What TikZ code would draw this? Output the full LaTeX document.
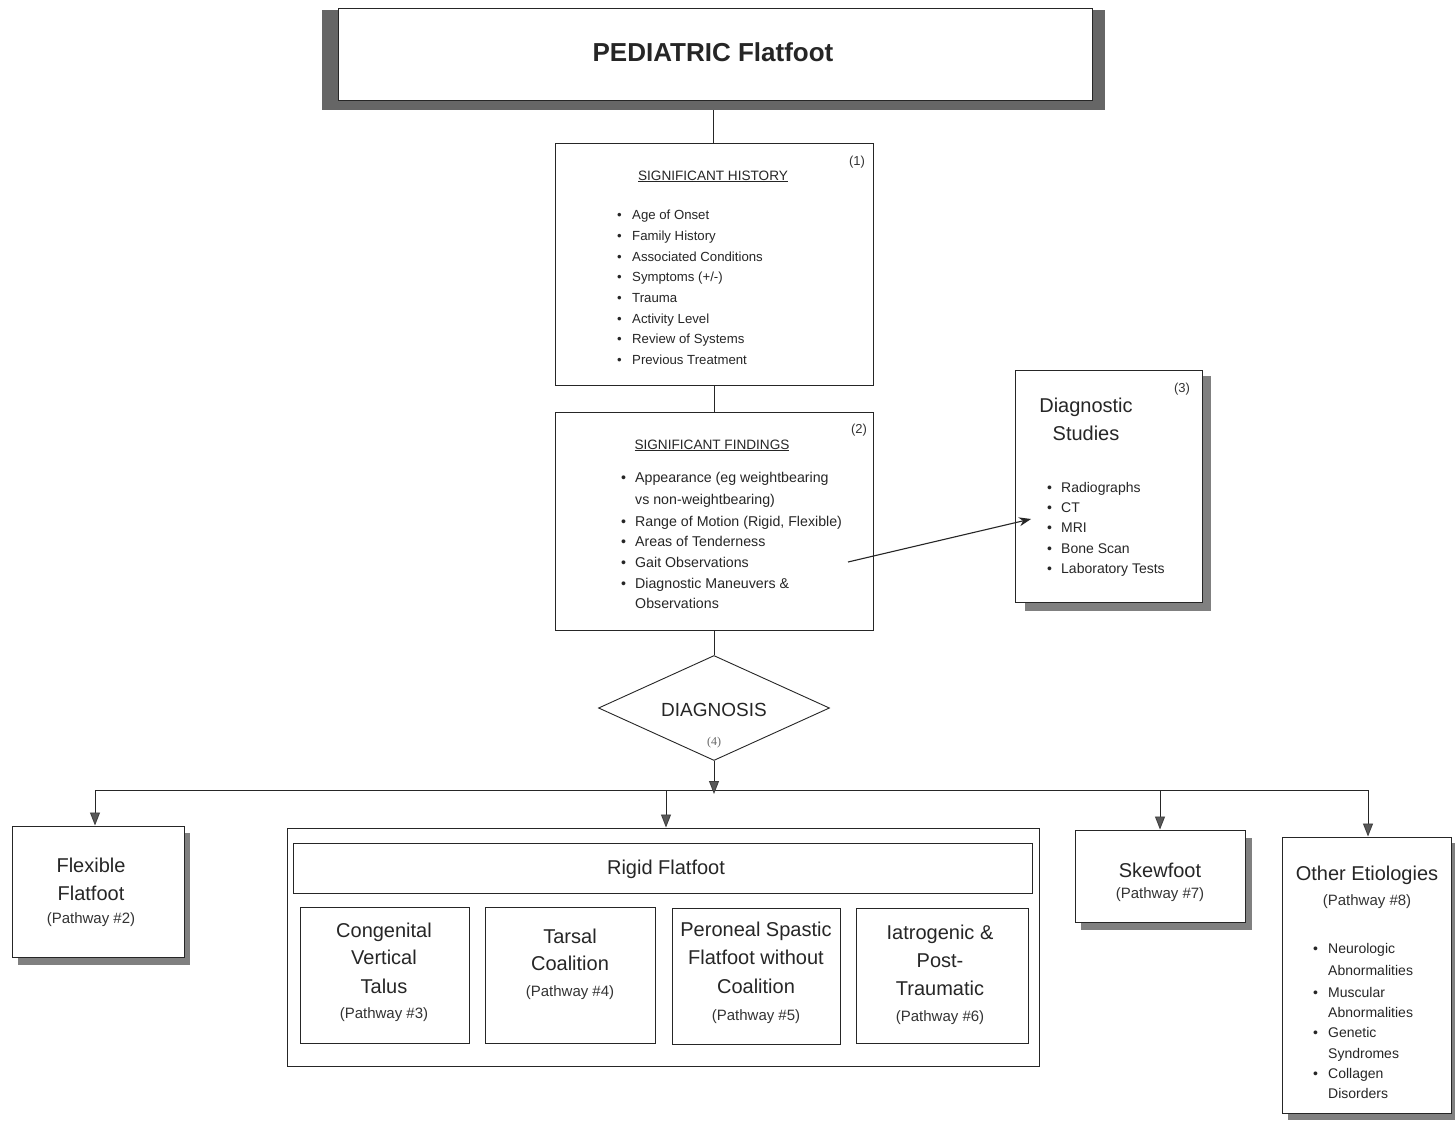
\documentclass[tikz,border=0pt]{standalone}
\usepackage{fontspec}
\setmainfont{Liberation Sans}
\newfontfamily\serifx{Liberation Serif}
\usetikzlibrary{shapes.geometric,arrows.meta}
\newcommand\mybul{\makebox[15pt][l]{\textbullet}}
\newcommand\myind{\hspace*{15pt}}
\begin{document}
\begin{tikzpicture}[x=1pt,y=-1pt,
  boxst/.style={draw=black!85, line width=1pt, fill=white, inner sep=0pt},
  shad/.style={fill=black!50, draw=none, inner sep=0pt},
  frame/.style={fill=black!60, draw=none, inner sep=0pt},
  ln/.style={draw=black!85, line width=0.9pt},
  arr/.style={ln, -{Triangle[length=13pt,width=10pt,fill=black!65,color=black!75]}},
  arrb/.style={ln, line width=1.1pt, -{Stealth[length=12pt,width=9pt]}},
  big/.style={font=\fontsize{20}{24}\selectfont, text=black!85, inner sep=0pt, anchor=base},
  pw/.style={font=\fontsize{15}{18}\selectfont, text=black!80, inner sep=0pt, anchor=base},
  num/.style={font=\fontsize{13}{16}\selectfont, text=black!80, inner sep=0pt, anchor=base},
  hd/.style={font=\fontsize{13.6}{16}\selectfont, text=black!85, inner sep=0pt, anchor=base},
  itmA/.style={font=\fontsize{13.2}{16}\selectfont, text=black!85, inner sep=0pt, anchor=base west},
  itmB/.style={font=\fontsize{14.2}{17}\selectfont, text=black!85, inner sep=0pt, anchor=base west},
  itmC/.style={font=\fontsize{14}{17}\selectfont, text=black!85, inner sep=0pt, anchor=base west}
]
\useasboundingbox (0,0) rectangle (1455,1121);
\fill[white] (0,0) rectangle (1455,1121);

% ---- title
\node[frame, minimum width=783, minimum height=100] (titleframe) at (713.5,60) {};
\node[boxst, line width=0.8pt, minimum width=754, minimum height=92] (title) at (715,54) {};
\node[inner sep=0pt, anchor=base, font=\fontsize{26}{30}\selectfont\bfseries, text=black!85] (titletxt) at (713,62) {PEDIATRIC Flatfoot};

% ---- history
\node[boxst, minimum width=318, minimum height=242] (hist) at (714,264) {};
\node[num] (n1) at (857,165) {(1)};
\node[hd] (histhd) at (713,180) {\underline{SIGNIFICANT HISTORY}};
\node[itmA] (h1) at (617,219.5) {\mybul Age of Onset};
\node[itmA] (h2) at (617,240.5) {\mybul Family History};
\node[itmA] (h3) at (617,261.5) {\mybul Associated Conditions};
\node[itmA] (h4) at (617,281.5) {\mybul Symptoms (+/-)};
\node[itmA] (h5) at (617,302.5) {\mybul Trauma};
\node[itmA] (h6) at (617,323.5) {\mybul Activity Level};
\node[itmA] (h7) at (617,343.5) {\mybul Review of Systems};
\node[itmA] (h8) at (617,364.5) {\mybul Previous Treatment};

% ---- findings
\node[boxst, minimum width=318, minimum height=218] (find) at (714,521) {};
\node[num] (n2) at (859,433) {(2)};
\node[hd] (findhd) at (712,449) {\underline{SIGNIFICANT FINDINGS}};
\node[itmB] (f1) at (621,482) {\makebox[14pt][l]{\textbullet}Appearance (eg weightbearing};
\node[itmB] (f2) at (621,504) {\hspace*{14pt}vs non-weightbearing)};
\node[itmB] (f3) at (621,526) {\makebox[14pt][l]{\textbullet}Range of Motion (Rigid, Flexible)};
\node[itmB] (f4) at (621,546) {\makebox[14pt][l]{\textbullet}Areas of Tenderness};
\node[itmB] (f5) at (621,567) {\makebox[14pt][l]{\textbullet}Gait Observations};
\node[itmB] (f6) at (621,588) {\makebox[14pt][l]{\textbullet}Diagnostic Maneuvers \&};
\node[itmB] (f7) at (621,608) {\hspace*{14pt}Observations};

% ---- diagnostic studies
\node[shad, minimum width=186, minimum height=235] (dsshad) at (1118,493.5) {};
\node[boxst, minimum width=187, minimum height=232] (ds) at (1108.5,486) {};
\node[num] (n3) at (1182,392) {(3)};
\node[big] (ds1) at (1086,412) {Diagnostic};
\node[big] (ds2) at (1086,440) {Studies};
\node[itmC] (d1) at (1047,492) {\makebox[14pt][l]{\textbullet}Radiographs};
\node[itmC] (d2) at (1047,512) {\makebox[14pt][l]{\textbullet}CT};
\node[itmC] (d3) at (1047,532) {\makebox[14pt][l]{\textbullet}MRI};
\node[itmC] (d4) at (1047,553) {\makebox[14pt][l]{\textbullet}Bone Scan};
\node[itmC] (d5) at (1047,573) {\makebox[14pt][l]{\textbullet}Laboratory Tests};

% ---- diagnosis
\node[diamond, draw=black!85, line width=0.9pt, fill=white, minimum width=231, minimum height=105, inner sep=0pt] (dx) at (714,708) {};
\node[inner sep=0pt, anchor=base, font=\fontsize{19}{22}\selectfont, text=black!85] (dxt) at (714,716) {DIAGNOSIS};
\node[inner sep=0pt, anchor=base, font=\fontsize{12}{14}\selectfont\serifx, text=black!60] (n4) at (714,745) {(4)};

% ---- flexible
\node[shad, minimum width=172, minimum height=132] (flexshad) at (104,899) {};
\node[boxst, minimum width=172, minimum height=131] (flex) at (98,891.5) {};
\node[big] (fl1) at (91,872) {Flexible};
\node[big] (fl2) at (91,900) {Flatfoot};
\node[pw] (fl3) at (91,923) {(Pathway \#2)};

% ---- rigid
\node[boxst, minimum width=752, minimum height=238] (rigid) at (663,947) {};
\node[boxst, minimum width=739, minimum height=50] (rtitle) at (662.5,868) {};
\node[big] (rt) at (666,874) {Rigid Flatfoot};

\node[boxst, minimum width=169, minimum height=136] (cvt) at (384.5,975) {};
\node[big] (c1) at (384,937) {Congenital};
\node[big] (c2) at (384,964) {Vertical};
\node[big] (c3) at (384,993) {Talus};
\node[pw] (c4) at (384,1018) {(Pathway \#3)};

\node[boxst, minimum width=170, minimum height=136] (tc) at (570,975) {};
\node[big] (t1) at (570,943) {Tarsal};
\node[big] (t2) at (570,970) {Coalition};
\node[pw] (t3) at (570,996) {(Pathway \#4)};

\node[boxst, minimum width=168, minimum height=136] (ps) at (756,976) {};
\node[big] (p1) at (756,936) {Peroneal Spastic};
\node[big] (p2) at (756,964) {Flatfoot without};
\node[big] (p3) at (756,993) {Coalition};
\node[pw] (p4) at (756,1020) {(Pathway \#5)};

\node[boxst, minimum width=172, minimum height=135] (it) at (942,975.5) {};
\node[big] (i1) at (940,939) {Iatrogenic \&};
\node[big] (i2) at (940,967) {Post-};
\node[big] (i3) at (940,995) {Traumatic};
\node[pw] (i4) at (940,1021) {(Pathway \#6)};

% ---- skewfoot
\node[shad, minimum width=171, minimum height=92] (skewshad) at (1166.5,884) {};
\node[boxst, minimum width=170, minimum height=92] (skew) at (1160,876) {};
\node[big] (s1) at (1160,877) {Skewfoot};
\node[pw] (s2) at (1160,898) {(Pathway \#7)};

% ---- other
\node[shad, minimum width=167, minimum height=277] (othshad) at (1371.5,981.5) {};
\node[boxst, minimum width=169, minimum height=276] (other) at (1366.5,975) {};
\node[big] (o1) at (1367,880) {Other Etiologies};
\node[pw] (o2) at (1367,905) {(Pathway \#8)};
\node[itmC] (o3) at (1313,953) {\makebox[15pt][l]{\textbullet}Neurologic};
\node[itmC] (o4) at (1313,975) {\hspace*{15pt}Abnormalities};
\node[itmC] (o5) at (1313,997) {\makebox[15pt][l]{\textbullet}Muscular};
\node[itmC] (o6) at (1313,1017) {\hspace*{15pt}Abnormalities};
\node[itmC] (o7) at (1313,1037) {\makebox[15pt][l]{\textbullet}Genetic};
\node[itmC] (o8) at (1313,1058) {\hspace*{15pt}Syndromes};
\node[itmC] (o9) at (1313,1078) {\makebox[15pt][l]{\textbullet}Collagen};
\node[itmC] (o10) at (1313,1098) {\hspace*{15pt}Disorders};

% ---- connectors
\draw[ln] (titleframe.south) -- (titleframe.south |- hist.north);
\draw[ln] (hist.south) -- (find.north);
\draw[ln] (find.south) -- (dx.north);

\coordinate (fa) at (848,562);
\coordinate (fb) at (1031,519);
\draw[arrb] (fa) -- (fb);

\coordinate (busA) at (95,790);
\coordinate (busB) at (666,790);
\coordinate (busC) at (714,794);
\coordinate (busD) at (1160,790);
\coordinate (busE) at (1368,790);
\draw[ln] (busA) -- (busE);
\draw[arr] (dx.south) -- (busC);
\draw[arr] (busA) -- (busA |- flex.north);
\draw[arr] (busB) -- (busB |- rigid.north);
\draw[arr] (busD) -- (busD |- skew.north);
\draw[arr] (busE) -- (busE |- other.north);
\end{tikzpicture}
\end{document}
